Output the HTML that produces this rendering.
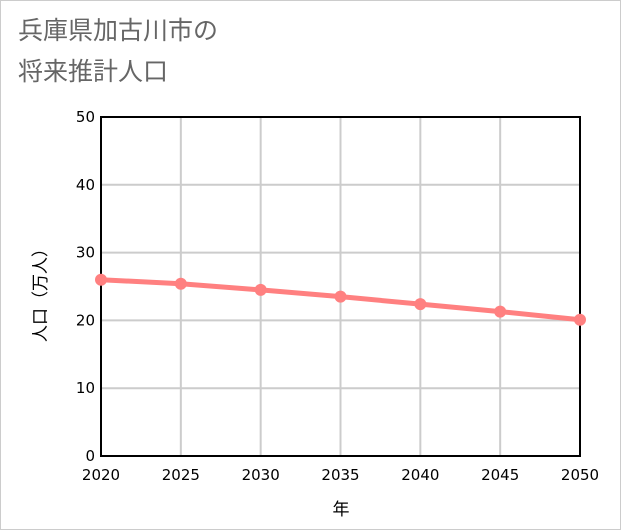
<!DOCTYPE html>
<html><head><meta charset="utf-8"><style>
body{margin:0;background:#fff}
#wrap{position:relative;width:619px;height:528px;border:1px solid #ccc;background:#fff;font-family:"Liberation Sans","Noto Sans CJK JP",sans-serif}
.t{position:absolute;left:17px;font-size:25px;color:#666;line-height:1}
</style></head><body>
<div id="wrap">
<div class="t" style="top:18px">兵庫県加古川市の</div>
<div class="t" style="top:59px">将来推計人口</div>
<svg id="svg" width="619" height="528" style="position:absolute;left:0;top:0"></svg>
</div>
<script>
const years=[2020,2025,2030,2035,2040,2045,2050];
const population=[26.0,25.4,24.5,23.5,22.4,21.3,20.1];
const yTicks=[0,10,20,30,40,50];
const svg=document.getElementById('svg');
const NS='http://www.w3.org/2000/svg';
const X0=100,X1=579,Y0=455,Y1=116;
const xs=v=>X0+(v-2020)/30*(X1-X0);
const ys=v=>Y0-v/50*(Y0-Y1);
const TF='"DejaVu Sans",sans-serif';
function mk(t,a,txt){const e=document.createElementNS(NS,t);for(const k in a)e.setAttribute(k,a[k]);if(txt!=null)e.textContent=txt;svg.appendChild(e);return e;}
yTicks.forEach(v=>{
 const g=mk('line',{x1:X0,x2:X1,y1:ys(v),y2:ys(v),stroke:'#ccc','stroke-width':2});
 
 
 const t=mk('text',{x:X0-6,y:ys(v)+5,'text-anchor':'end','font-size':15,'font-family':TF,fill:'#000'},v);
 
 
});
years.forEach(v=>{
 const g=mk('line',{x1:xs(v),x2:xs(v),y1:Y1,y2:Y0,stroke:'#ccc','stroke-width':2});
 
 
 const t=mk('text',{x:xs(v),y:479,'text-anchor':'middle','font-size':15,'font-family':TF,fill:'#000'},v);
 
 
});
const fr=mk('rect',{x:X0,y:Y1,width:X1-X0,height:Y0-Y1,fill:'none',stroke:'#000','stroke-width':2});


const ln=mk('polyline',{points:years.map((y,i)=>xs(y)+','+ys(population[i])).join(' '),fill:'none',stroke:'#ff8080','stroke-width':5});


years.forEach((y,i)=>{
 const c=mk('circle',{cx:xs(y),cy:ys(population[i]),r:6,fill:'#ff8080'});
 
 
});
const xt=mk('text',{x:340,y:514,'text-anchor':'middle','font-size':17,fill:'#000'},'年');


const yt=mk('text',{x:0,y:0,'text-anchor':'middle','font-size':17,fill:'#000',transform:'translate(45,290) rotate(-90)'},'人口（万人）');


</script>
</body></html>
